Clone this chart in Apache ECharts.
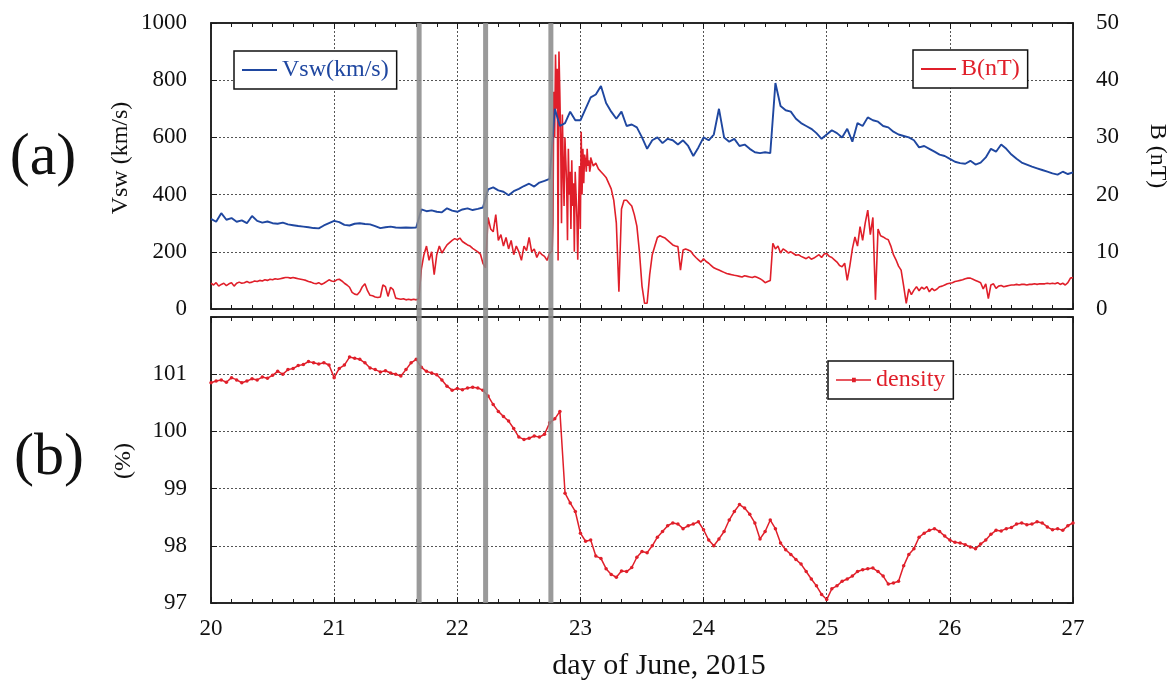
<!DOCTYPE html>
<html>
<head>
<meta charset="utf-8">
<script src="https://cdn.jsdelivr.net/npm/echarts@6/dist/echarts.min.js"></script>
<style>
html,body{margin:0;padding:0;background:#ffffff;}
#chart{width:1175px;height:688px;}
</style>
</head>
<body>
<div id="chart"></div>
<script>
// ---------- DATA ----------
const dayStart = 20;
const dayEnd = 27;
const eventDays = [21.69, 22.23, 22.76];

// Solar wind speed (km/s), hourly samples from day 20.0
const vswStep = 1 / 24;
const vswValues = [
  315,305,335,312,318,305,310,300,325,308,302,306,300,298,302,296,293,290,288,286,283,282,292,300,
  308,304,294,292,298,300,297,296,290,283,286,288,285,284,285,284,285,348,342,345,340,338,352,344,
  340,348,352,346,350,355,418,425,415,410,398,412,420,430,438,428,442,448,455,700,640,650,690,660,
  660,700,740,750,780,720,690,665,690,640,645,635,600,560,590,600,580,595,590,575,590,570,535,565,
  600,590,610,700,600,585,595,570,575,560,548,545,548,545,790,710,695,690,665,650,640,630,615,595,
  610,625,615,600,630,585,650,640,670,660,655,640,635,620,610,605,600,590,565,570,560,550,540,535,
  525,515,510,508,518,505,512,530,560,550,575,560,540,525,512,505,498,492,486,480,474,470,480,472,
  478
];

// Magnetic field B (nT), half-hourly samples from day 20.0
const bStep = 1 / 48;
const bValues = [
  4.5,4.2,4.6,4.0,4.3,4.5,4.1,4.4, 4.6,4.0,4.5,4.7,4.5,4.6,4.8,4.6,
  4.7,4.9,4.8,5.0,4.9,5.1,5.0,5.2, 5.1,5.3,5.2,5.3,5.4,5.5,5.5,5.4,
  5.5,5.4,5.3,5.2,5.1,5.0,4.8,4.7, 4.5,4.4,4.6,4.3,4.5,4.8,5.1,4.9,
  4.8,5.1,5.2,4.9,4.5,4.2,3.8,2.9, 2.6,2.5,3.0,3.9,4.4,3.2,2.4,2.3,
  2.1,2.0,2.1,4.2,3.9,2.2,3.8,3.4, 1.9,1.8,1.7,1.8,1.6,1.7,1.6,1.7,
  1.6,1.8,7.0,9.5,11.0,8.5,10.0,6.0, 9.5,11.0,9.8,10.5,11.2,11.6,12.0,12.3,
  12.1,12.4,11.8,11.5,11.2,11.0,10.6,10.3, 10.0,9.6,8.0,7.2,16.0,14.0,13.5,16.5,
  12.0,13.0,11.0,12.5,10.5,12.0,9.5,11.0, 10.0,8.5,11.0,10.2,12.5,10.0,10.5,9.0,
  10.0,9.5,9.2,8.5,9.8,15.5,38.0,44.5, 30.0,42.0,28.0,16.0,26.0,18.0,22.0,9.0,
  31.0,26.0,28.0,25.5,26.5,25.0,25.5,24.5, 24.0,23.5,23.0,22.0,21.0,19.0,15.0,3.0,
  17.5,19.0,19.0,18.5,18.0,16.5,14.5,10.0, 4.0,1.0,1.0,6.0,9.5,11.0,12.5,12.8,
  12.6,12.4,12.0,11.6,11.2,11.0,10.9,6.8, 10.3,10.5,10.3,10.1,9.5,9.0,8.6,8.2,
  8.8,8.3,8.0,7.6,7.2,7.0,6.8,6.6, 6.4,6.2,6.1,6.0,5.9,5.8,5.7,5.6,
  5.8,5.7,5.6,5.5,5.7,5.5,5.3,5.0, 4.6,4.8,5.0,11.5,10.5,11.0,9.8,10.5,
  10.2,9.8,10.0,9.7,9.4,9.5,9.2,9.0, 8.8,9.1,8.7,8.9,9.2,9.5,9.0,9.6,
  9.7,9.2,9.0,8.6,8.2,7.6,7.4,8.0, 5.0,7.5,10.5,12.6,11.0,14.4,12.0,15.0,
  17.3,13.0,16.0,1.6,14.0,12.8,12.6,12.3, 12.1,11.0,9.5,8.6,7.5,6.8,4.0,1.0,
  3.5,2.5,3.3,3.9,3.2,3.8,3.5,3.9, 3.0,3.6,3.2,3.5,3.9,4.0,4.2,4.4,
  4.5,4.6,4.8,4.9,5.0,5.1,5.3,5.4, 5.4,5.2,5.0,4.8,4.6,3.5,4.4,1.8,
  4.2,4.4,3.6,4.0,4.1,3.9,4.0,4.1, 4.2,4.2,4.3,4.2,4.3,4.3,4.2,4.3,
  4.3,4.4,4.3,4.4,4.4,4.4,4.5,4.4, 4.5,4.4,4.6,4.3,4.5,4.2,4.6,5.4,
  5.5
];

// B (nT) during the shock burst, 10-minute samples from day 22.77 (replace half-hourly ones there)
const bBurstStart = 22.77;
const bBurstStep = 1 / 144;
const bBurstValues = [
  10.0,15.0,38.0,30.0,
  44.5,35.0,42.0,8.5,45.0,38.0,
  30.0,15.0,34.0,25.0,18.0,30.0,
  26.0,22.0,12.0,28.0,20.0,24.0,
  14.0,26.0,18.0,22.0,10.0,24.0,
  20.0,16.0,8.6,18.0,25.0,14.0,
  31.0,20.0,28.0,22.0,27.0,26.0,
  24.0,28.0,25.0,26.0,24.0,25.0
];

// Density (%), hourly samples from day 20.0
const densityStep = 1 / 24;
const densityValues = [
  100.85,100.88,100.90,100.86,100.94,100.90,100.85,100.88,100.92,100.90,100.95,100.93,100.98,101.05,101.00,101.08,101.10,101.15,101.17,101.22,101.20,101.18,101.20,101.16,
  100.94,101.10,101.16,101.30,101.28,101.26,101.20,101.11,101.08,101.04,101.06,101.02,101.00,100.97,101.08,101.20,101.26,101.12,101.05,101.02,100.99,100.90,100.79,100.72,
  100.75,100.73,100.76,100.77,100.76,100.72,100.62,100.47,100.35,100.26,100.18,100.05,99.90,99.86,99.88,99.92,99.90,99.95,100.15,100.22,100.35,98.92,98.75,98.60,
  98.22,98.08,98.10,97.82,97.78,97.60,97.50,97.45,97.56,97.55,97.62,97.80,97.90,97.88,98.00,98.15,98.25,98.35,98.40,98.38,98.30,98.35,98.38,98.42,
  98.28,98.10,98.00,98.12,98.25,98.45,98.60,98.72,98.66,98.55,98.40,98.12,98.25,98.45,98.30,98.05,97.93,97.85,97.76,97.68,97.55,97.42,97.30,97.15,
  97.06,97.25,97.30,97.38,97.42,97.47,97.55,97.58,97.60,97.61,97.55,97.47,97.33,97.35,97.38,97.65,97.85,97.95,98.15,98.22,98.27,98.30,98.25,98.17,
  98.10,98.06,98.05,98.02,97.98,97.95,98.03,98.10,98.20,98.27,98.26,98.30,98.32,98.38,98.40,98.37,98.38,98.42,98.40,98.33,98.28,98.30,98.27,98.35,
  98.40
];

const vswAxis = { min: 0, max: 1000, interval: 200 };
const bAxis = { min: 0, max: 50, interval: 10 };
const densityAxis = { min: 97, max: 102, interval: 1, hiddenLabel: 102 };

// ---------- STYLE ----------
const FONT = '"Liberation Serif", "Times New Roman", serif';
const BLUE = '#1f47a0';
const RED = '#e01f2a';
const FRAME = '#1a1a1a';
const GRID_LINE = { show: true, lineStyle: { color: '#555', type: [2, 2], width: 1 } };

const toPairs = (vals, step, start) => vals.map((v, i) => [(start === undefined ? dayStart : start) + i * step, v]);

// B series: half-hourly baseline, with the burst interval replaced by the 10-minute samples
const bBurstPairs = toPairs(bBurstValues, bBurstStep, bBurstStart);
const bBurstEnd = bBurstPairs[bBurstPairs.length - 1][0];
const bPairs = toPairs(bValues, bStep)
  .filter(p => p[0] < bBurstStart - 1e-6 || p[0] > bBurstEnd + 1e-6)
  .concat(bBurstPairs)
  .sort((a, b) => a[0] - b[0]);

function xAx(gridIndex, position, showLabels) {
  return {
    type: 'value', gridIndex: gridIndex, position: position,
    min: dayStart, max: dayEnd, interval: 1,
    axisLine: { show: true, onZero: false, lineStyle: { color: FRAME, width: 1.5 } },
    axisTick: { show: true, inside: true, length: 6, lineStyle: { color: FRAME, width: 1 } },
    minorTick: { show: true, splitNumber: 6, length: 4, lineStyle: { color: FRAME, width: 1 } },
    axisLabel: { show: showLabels, margin: 14, fontFamily: FONT, fontSize: 23, color: '#111' },
    splitLine: position === 'bottom' ? GRID_LINE : { show: false },
    minorSplitLine: { show: false }
  };
}
function yAx(gridIndex, position, cfg, showLabels, showSplit, margin) {
  return {
    type: 'value', gridIndex: gridIndex, position: position,
    min: cfg.min, max: cfg.max, interval: cfg.interval,
    axisLine: { show: true, onZero: false, lineStyle: { color: FRAME, width: 1.5 } },
    axisTick: { show: true, inside: true, length: 6, lineStyle: { color: FRAME, width: 1 } },
    axisLabel: {
      show: showLabels, margin: margin, fontFamily: FONT, fontSize: 23, color: '#111',
      formatter: v => (cfg.hiddenLabel !== undefined && v === cfg.hiddenLabel) ? '' : String(v)
    },
    splitLine: showSplit ? GRID_LINE : { show: false }
  };
}
const LINE_ICON = 'path://M0,0 L35,0 L35,1.8 L0,1.8 Z';
const DOT_LINE_ICON = 'path://M0,1.5 L35,1.5 L35,2.8 L0,2.8 Z M16,0 L19.8,0 L19.8,4.3 L16,4.3 Z';
function legendBox(name, left, top, color, icon, iconH) {
  return {
    data: [{ name: name, icon: icon }], left: left, top: top, orient: 'horizontal',
    padding: [7, 8, 7, 8], itemWidth: 35, itemHeight: iconH, itemGap: 0,
    borderColor: '#111', borderWidth: 1.5, backgroundColor: '#fff',
    selectedMode: false,
    itemStyle: { color: color, borderWidth: 0 },
    lineStyle: { width: 0 },
    textStyle: { fontFamily: FONT, fontSize: 24, color: color }
  };
}

const chart = echarts.init(document.getElementById('chart'), null, { renderer: 'canvas' });
const option = {
  animation: false,
  backgroundColor: '#ffffff',
  grid: [
    { left: 211, top: 23, width: 862, height: 286, show: true, borderColor: FRAME, borderWidth: 1.5, backgroundColor: 'transparent' },
    { left: 211, top: 317, width: 862, height: 286, show: true, borderColor: FRAME, borderWidth: 1.5, backgroundColor: 'transparent' }
  ],
  xAxis: [ xAx(0, 'bottom', false), xAx(0, 'top', false), xAx(1, 'bottom', true), xAx(1, 'top', false) ],
  yAxis: [
    yAx(0, 'left', vswAxis, true, true, 24),
    yAx(0, 'right', bAxis, true, false, 23),
    yAx(1, 'left', densityAxis, true, true, 24),
    yAx(1, 'right', densityAxis, false, false, 23)
  ],
  legend: [
    legendBox('Vsw(km/s)', 234, 51, BLUE, LINE_ICON, 1.8),
    legendBox('B(nT)', 913, 50, RED, LINE_ICON, 1.8),
    legendBox('density', 828, 361, RED, DOT_LINE_ICON, 4.3)
  ],
  series: [
    { name: 'Vsw(km/s)', type: 'line', xAxisIndex: 0, yAxisIndex: 0, data: toPairs(vswValues, vswStep),
      symbol: 'none', showSymbol: false, lineStyle: { color: BLUE, width: 1.9 }, itemStyle: { color: BLUE }, z: 3 },
    { name: 'B(nT)', type: 'line', xAxisIndex: 0, yAxisIndex: 1, data: bPairs,
      symbol: 'none', showSymbol: false, lineStyle: { color: RED, width: 1.6 }, itemStyle: { color: RED }, z: 2 },
    { name: 'density', type: 'line', xAxisIndex: 2, yAxisIndex: 2, data: toPairs(densityValues, densityStep),
      symbol: 'circle', symbolSize: 3.5, showSymbol: true, lineStyle: { color: RED, width: 1.5 }, itemStyle: { color: RED }, z: 3 }
  ]
};
chart.setOption(option);

// Event bars spanning both panels, positioned through the chart's own scales
const barTop = chart.convertToPixel({ yAxisIndex: 0 }, vswAxis.max);
const barBottom = chart.convertToPixel({ yAxisIndex: 2 }, densityAxis.min);
const graphics = eventDays.map(d => {
  const px = chart.convertToPixel({ xAxisIndex: 0 }, d);
  return { type: 'rect', z: 100, silent: true,
    shape: { x: px - 2.5, y: barTop, width: 5, height: barBottom - barTop },
    style: { fill: 'rgba(140,140,140,0.88)' } };
});
const txt = (text, x, y, size, rot, color) => ({
  type: 'text', x: x, y: y, rotation: rot || 0, z: 100, silent: true,
  style: { text: text, font: size + 'px ' + FONT, fill: color || '#111', align: 'center', verticalAlign: 'middle' }
});
graphics.push(txt('(a)', 43, 158, 60, 0));
graphics.push(txt('(b)', 49, 458, 60, 0));
graphics.push(txt('Vsw (km/s)', 121, 158, 24, Math.PI / 2));
graphics.push(txt('(%)', 124, 461, 24, Math.PI / 2));
graphics.push(txt('B (nT)', 1157, 156, 24, -Math.PI / 2));
graphics.push(txt('day of June, 2015', 659, 666, 30, 0));
chart.setOption({ graphic: graphics });
</script>
</body>
</html>
